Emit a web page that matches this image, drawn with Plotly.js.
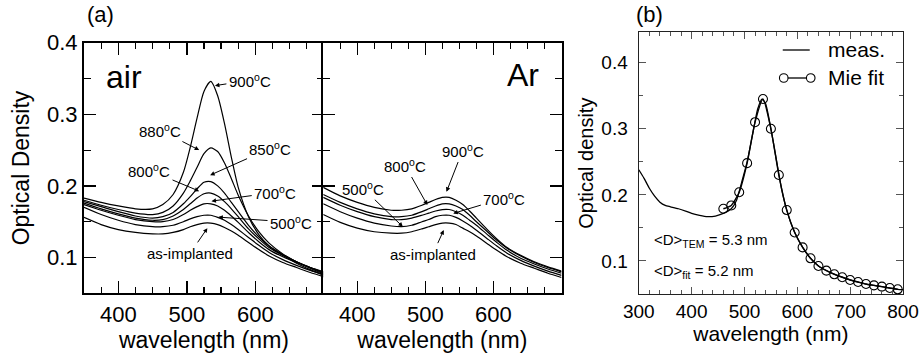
<!DOCTYPE html>
<html><head><meta charset="utf-8">
<script src="https://cdn.plot.ly/plotly-3.0.1.min.js"></script>
<style>html,body{margin:0;padding:0;background:#fff;}#chart{width:923px;height:354px;}</style>
</head><body><div id="chart"></div>
<script>
// ---- data ----
const wlA = [350,375,400,425,450,465,480,495,505,515,525,535,545,555,565,575,590,605,620,640,660,680,700];
// (a) annealed in air
const air_asimpl = [0.156,0.146,0.139,0.135,0.133,0.133,0.135,0.139,0.143,0.146,0.148,0.148,0.146,0.142,0.137,0.131,0.121,0.111,0.102,0.093,0.086,0.079,0.073];
const air_500 = [0.170,0.160,0.152,0.146,0.143,0.143,0.145,0.150,0.154,0.157,0.159,0.159,0.156,0.152,0.146,0.139,0.128,0.117,0.107,0.097,0.089,0.082,0.076];
const air_700 = [0.174,0.166,0.159,0.153,0.150,0.150,0.153,0.160,0.166,0.171,0.175,0.175,0.172,0.166,0.158,0.149,0.135,0.122,0.111,0.101,0.093,0.086,0.080];
const air_800 = [0.176,0.168,0.161,0.155,0.152,0.153,0.158,0.167,0.175,0.183,0.189,0.190,0.186,0.178,0.168,0.157,0.140,0.126,0.114,0.103,0.094,0.086,0.079];
const air_850 = [0.178,0.171,0.164,0.158,0.155,0.157,0.163,0.175,0.185,0.196,0.205,0.206,0.200,0.190,0.177,0.164,0.145,0.129,0.116,0.104,0.094,0.086,0.078];
const air_880 = [0.180,0.173,0.167,0.162,0.160,0.163,0.172,0.190,0.207,0.226,0.245,0.253,0.248,0.232,0.210,0.187,0.158,0.136,0.120,0.105,0.094,0.085,0.077];
const air_900 = [0.183,0.177,0.172,0.168,0.168,0.174,0.188,0.219,0.254,0.295,0.332,0.346,0.326,0.287,0.240,0.198,0.157,0.132,0.116,0.103,0.092,0.083,0.075];
// (a) annealed in Ar
const ar_asimpl = [0.160,0.149,0.141,0.136,0.134,0.134,0.136,0.140,0.143,0.146,0.148,0.148,0.146,0.141,0.136,0.130,0.120,0.110,0.101,0.092,0.085,0.078,0.072];
const ar_500 = [0.175,0.164,0.155,0.148,0.144,0.143,0.145,0.150,0.153,0.157,0.159,0.159,0.156,0.151,0.145,0.138,0.127,0.116,0.106,0.096,0.088,0.081,0.075];
const ar_700 = [0.184,0.173,0.164,0.157,0.153,0.153,0.155,0.159,0.162,0.165,0.167,0.167,0.164,0.159,0.152,0.145,0.133,0.121,0.110,0.099,0.091,0.084,0.078];
const ar_800 = [0.188,0.177,0.168,0.161,0.157,0.157,0.159,0.164,0.168,0.172,0.175,0.175,0.172,0.167,0.159,0.150,0.137,0.124,0.113,0.102,0.093,0.086,0.080];
const ar_900 = [0.198,0.186,0.177,0.170,0.166,0.166,0.168,0.173,0.177,0.181,0.184,0.184,0.180,0.174,0.165,0.155,0.140,0.126,0.114,0.103,0.094,0.087,0.081];
// (b) measured spectrum and Mie fit
const wlMeas = [300,310,320,330,340,350,360,375,390,400,415,430,445,460,475,485,495,505,515,525,533,540,550,560,570,580,590,600,610,625,640,655,670,685,700,715,730,745,760,775,790,800];
const odMeas = [0.238,0.225,0.210,0.198,0.189,0.184,0.182,0.179,0.175,0.172,0.169,0.167,0.168,0.172,0.179,0.192,0.220,0.250,0.290,0.330,0.345,0.338,0.300,0.255,0.210,0.177,0.153,0.135,0.121,0.104,0.0925,0.0855,0.080,0.0755,0.0715,0.068,0.065,0.063,0.061,0.059,0.057,0.0565];
const wlFit = [460,475,490,505,520,535,550,565,580,595,610,625,640,655,670,685,700,715,730,745,760,775,790];
const odFit = [0.179,0.184,0.204,0.248,0.310,0.345,0.300,0.230,0.177,0.143,0.1205,0.104,0.0924,0.0853,0.0798,0.0753,0.0712,0.0682,0.0652,0.0631,0.0611,0.0591,0.0571];
const tickA = [400,500,600];
const tickB = [300,400,500,600,700,800];
const tickY = [0.1,0.2,0.3,0.4];

// ---- layout helpers ----
const W=923,H=354, ML=84, MR=19.7, MT=32, MB=60;
const PW=W-ML-MR, PH=H-MT-MB;
const px = x => (x-ML)/PW, py = y => (H-MB-y)/PH;
const FONT = 'Liberation Sans, Arial, sans-serif';

const line = {color:'#000', width:1.2, shape:'spline', smoothing:0.7};
function tr(x,y,xa,ya){return {x:x,y:y,xaxis:xa,yaxis:ya,mode:'lines',line:line,showlegend:false,hoverinfo:'skip'};}
const traces = [
  tr(wlA,air_asimpl,'x','y'),tr(wlA,air_500,'x','y'),tr(wlA,air_700,'x','y'),tr(wlA,air_800,'x','y'),
  tr(wlA,air_850,'x','y'),tr(wlA,air_880,'x','y'),tr(wlA,air_900,'x','y'),
  tr(wlA,ar_asimpl,'x2','y2'),tr(wlA,ar_500,'x2','y2'),tr(wlA,ar_700,'x2','y2'),tr(wlA,ar_800,'x2','y2'),tr(wlA,ar_900,'x2','y2'),
  {x:wlMeas,y:odMeas,xaxis:'x3',yaxis:'y3',mode:'lines',name:'meas.',line:{color:'#000',width:1.3,shape:'spline',smoothing:0.6},showlegend:false},
  {x:wlFit,y:odFit,xaxis:'x3',yaxis:'y3',mode:'lines+markers',name:'Mie fit',line:{color:'#000',width:1.4,shape:'spline',smoothing:0.6},
   marker:{symbol:'circle-open',size:9,color:'#000',line:{width:1.1}},showlegend:false}
];

const axA = {range:[350,700],tickvals:tickA,ticks:'inside',ticklen:12,tickwidth:1.5,tickcolor:'#000',
  showline:true,linewidth:2,linecolor:'#000',mirror:'allticks',showgrid:false,zeroline:false,
  tickfont:{family:FONT,size:22,color:'#000'},
  minor:{tickmode:'linear',tick0:350,dtick:25,ticks:'inside',ticklen:6,tickwidth:1.2,tickcolor:'#000',showgrid:false}};
const ayA = {range:[0.05,0.4],tickvals:tickY,tickformat:'.1f',ticks:'inside',ticklen:12,tickwidth:1.5,tickcolor:'#000',
  showline:true,linewidth:2,linecolor:'#000',mirror:'allticks',showgrid:false,zeroline:false,
  tickfont:{family:FONT,size:22,color:'#000'},
  minor:{tickmode:'linear',tick0:0.05,dtick:0.05,ticks:'inside',ticklen:7,tickwidth:1.2,tickcolor:'#000',showgrid:false}};
const domY = [py(293.3), py(42.7)];

const layout = {
  width:W,height:H,margin:{l:ML,r:MR,t:MT,b:MB},paper_bgcolor:'#fff',plot_bgcolor:'#fff',showlegend:false,
  font:{family:FONT,color:'#000'},
  xaxis: Object.assign({},axA,{domain:[px(84),px(324)],anchor:'y',title:{text:'wavelength (nm)',font:{family:FONT,size:23},standoff:2}}),
  yaxis: Object.assign({},ayA,{domain:domY,anchor:'x',title:{text:'Optical Density',font:{family:FONT,size:23},standoff:11}}),
  xaxis2: Object.assign({},axA,{domain:[px(323.3),px(561.7)],anchor:'y2',title:{text:'wavelength (nm)',font:{family:FONT,size:23},standoff:2}}),
  yaxis2: Object.assign({},ayA,{domain:domY,anchor:'x2',showticklabels:false}),
  xaxis3: {domain:[px(639),1],anchor:'y3',range:[300,800],tickvals:tickB,ticks:'inside',ticklen:7,tickwidth:1,tickcolor:'#555',
    showline:true,linewidth:1.2,linecolor:'#222',mirror:'allticks',showgrid:false,zeroline:false,
    tickfont:{family:FONT,size:19,color:'#000'},
    minor:{tickmode:'linear',tick0:300,dtick:20,ticks:'inside',ticklen:4,tickwidth:1,tickcolor:'#555',showgrid:false},
    title:{text:'wavelength (nm)',font:{family:FONT,size:21},standoff:2}},
  yaxis3: {domain:[py(294),py(32.3)],anchor:'x3',range:[0.05,0.446],tickvals:tickY,tickformat:'.1f',ticks:'inside',ticklen:7,tickwidth:1,tickcolor:'#555',
    showline:true,linewidth:1.2,linecolor:'#222',mirror:'allticks',showgrid:false,zeroline:false,ticklabelstandoff:6,
    tickfont:{family:FONT,size:19,color:'#000'},
    minor:{tickmode:'linear',tick0:0.05,dtick:0.05,ticks:'inside',ticklen:4,tickwidth:1,tickcolor:'#555',showgrid:false},
    title:{text:'Optical density',font:{family:FONT,size:20},standoff:2}},
  annotations: [],
  shapes: []
};

const AF = {family:FONT,size:15,color:'#000'};
function arr(xr,yr,text,tx,ty,hx,hy){
  layout.annotations.push({xref:xr,yref:yr,axref:xr,ayref:yr,x:hx,y:hy,ax:tx,ay:ty,text:text,showarrow:true,
    arrowhead:2,arrowsize:0.9,arrowwidth:1,arrowcolor:'#000',font:AF,standoff:0,startstandoff:1});
}
const deg = t => t+'<sup>o</sup>C';
// air panel labels
arr('x','y',deg('900'),592,0.3475,541,0.340);
arr('x','y',deg('880'),461,0.278,518,0.250);
arr('x','y',deg('850'),622,0.2526,534,0.215);
arr('x','y',deg('800'),445,0.222,518,0.1927);
arr('x','y',deg('700'),629,0.191,536,0.1787);
arr('x','y',deg('500'),652,0.1494,546,0.1564);
arr('x','y','as-implanted',505,0.106,530,0.141);
// Ar panel labels
arr('x2','y2',deg('900'),555,0.25,531,0.1917);
arr('x2','y2',deg('800'),470,0.229,503,0.1732);
arr('x2','y2',deg('500'),408,0.197,467,0.1429);
arr('x2','y2',deg('700'),616,0.183,541,0.1616);
arr('x2','y2','as-implanted',511,0.1048,527,0.1383);

function txt(text,x,y,xa,ya,size){
  layout.annotations.push({xref:'paper',yref:'paper',x:x,y:y,xanchor:xa,yanchor:ya,text:text,showarrow:false,font:{family:FONT,size:size,color:'#000'}});
}
txt('(a)',px(101),py(14),'center','middle',22);
txt('(b)',px(650),py(14),'center','middle',22);
txt('air',px(104),py(77),'left','middle',32);
txt('Ar',px(541),py(75),'right','middle',32);
txt('&lt;D&gt;<sub>TEM</sub> = 5.3 nm',px(652),py(240),'left','middle',15);
txt('&lt;D&gt;<sub>fit</sub> = 5.2 nm',px(652),py(271),'left','middle',15);
// legend (b)
txt('meas.',px(826),py(49),'left','middle',21);
txt('Mie fit',px(826),py(77),'left','middle',21);
layout.shapes.push({type:'line',xref:'paper',yref:'paper',x0:px(783),x1:px(810),y0:py(50),y1:py(50),line:{color:'#000',width:1.3}});
layout.shapes.push({type:'line',xref:'paper',yref:'paper',x0:px(784),x1:px(811),y0:py(78),y1:py(78),line:{color:'#000',width:1.3}});
[784,811].forEach(c=>{
  layout.shapes.push({type:'circle',xref:'paper',yref:'paper',x0:px(c-4.3),x1:px(c+4.3),y0:py(78+4.3),y1:py(78-4.3),
    line:{color:'#000',width:1.1},fillcolor:'#fff'});
});

Plotly.newPlot('chart',traces,layout,{staticPlot:true,displayModeBar:false});
</script></body></html>
